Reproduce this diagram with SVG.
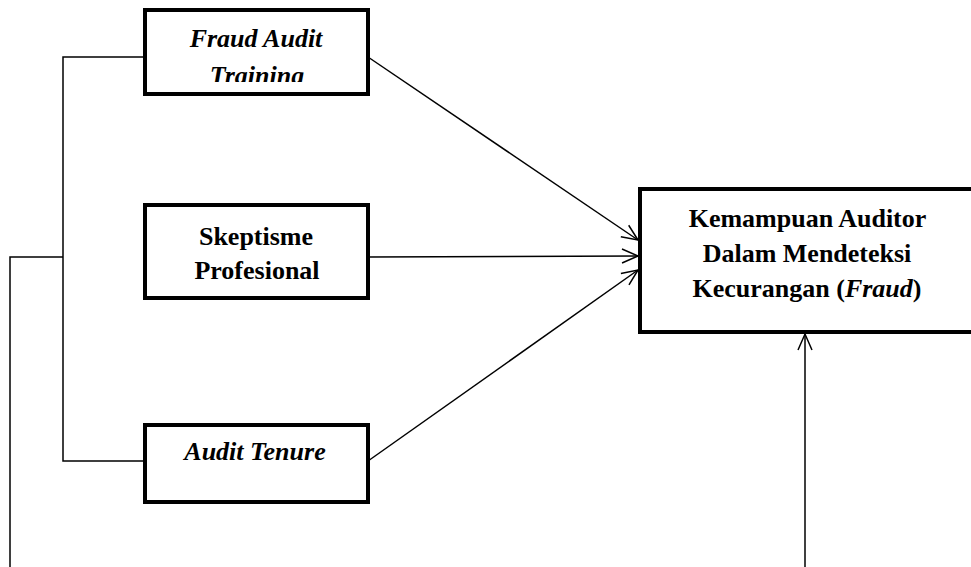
<svg xmlns="http://www.w3.org/2000/svg" width="971" height="567" viewBox="0 0 971 567">
<style>
.box{fill:#fff;stroke:#000;stroke-width:4}
.t{font-family:"Liberation Serif","Times New Roman",serif;font-weight:bold;font-size:26px;text-anchor:middle;fill:#000}
.i{font-style:italic}
.c{fill:none;stroke:#000;stroke-width:1.5}
</style>
<defs>
<marker id="ah" viewBox="0 0 20 20" refX="18" refY="10" markerWidth="20" markerHeight="20" markerUnits="userSpaceOnUse" orient="auto">
<path d="M2,3 L18,10 L2,17" fill="none" stroke="#000" stroke-width="1.5"/>
</marker>
<clipPath id="c1"><rect x="147" y="12" width="219" height="70"/></clipPath>
</defs>
<g id="connectors">
<polyline class="c" points="145,57 63,57 63,461 145,461"/>
<polyline class="c" points="63,257 10,257 10,567"/>
<line class="c" x1="368" y1="57" x2="638" y2="240" marker-end="url(#ah)"/>
<line class="c" x1="368" y1="257" x2="638" y2="256" marker-end="url(#ah)"/>
<line class="c" x1="368" y1="461" x2="638" y2="270" marker-end="url(#ah)"/>
<line class="c" x1="805" y1="567" x2="805" y2="334" marker-end="url(#ah)"/>
</g>
<g id="n1">
<rect class="box" x="145" y="10" width="223" height="84"/>
<g clip-path="url(#c1)">
<text class="t i" x="256" y="47">Fraud Audit</text>
<text class="t i" x="257" y="84">Training</text>
</g>
</g>
<g id="n2">
<rect class="box" x="145" y="205" width="223" height="93"/>
<text class="t" x="256" y="245">Skeptisme</text>
<text class="t" x="257" y="279">Profesional</text>
</g>
<g id="n3">
<rect class="box" x="145" y="425" width="223" height="77"/>
<text class="t i" x="255" y="460">Audit Tenure</text>
</g>
<g id="n4">
<rect class="box" x="640" y="189" width="340" height="143"/>
<text class="t" x="807.5" y="227">Kemampuan Auditor</text>
<text class="t" x="807" y="262">Dalam Mendeteksi</text>
<text class="t" x="807" y="297">Kecurangan (<tspan class="i">Fraud</tspan>)</text>
</g>
</svg>
